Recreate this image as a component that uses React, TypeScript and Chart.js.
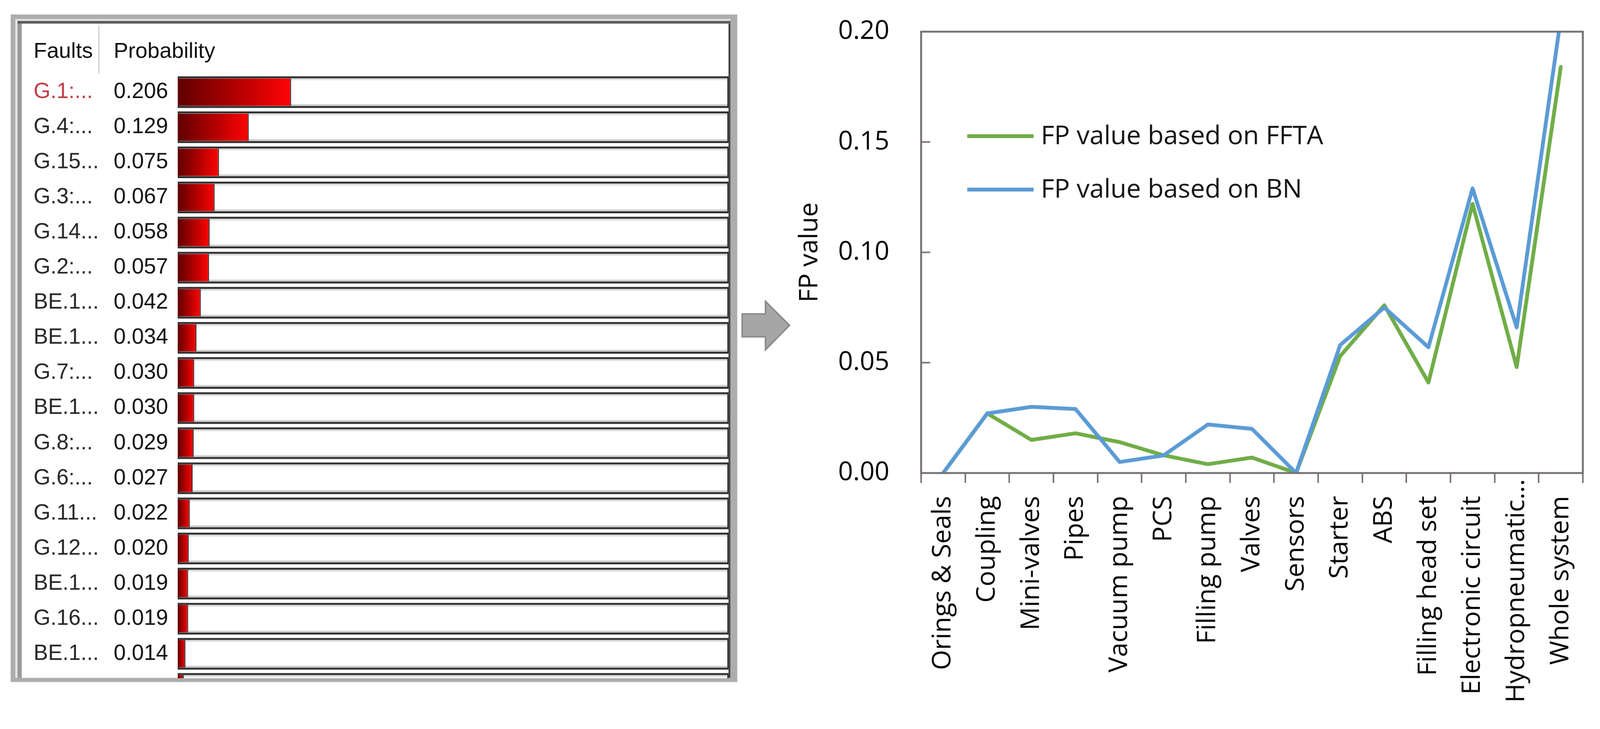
import React, { useEffect, useRef } from 'react';
import { Chart, registerables } from 'chart.js';

Chart.register(...registerables);

// ---------- Left panel data (fault probabilities) ----------
const faultLabels = [
  'G.1:...', 'G.4:...', 'G.15...', 'G.3:...', 'G.14...', 'G.2:...',
  'BE.1...', 'BE.1...', 'G.7:...', 'BE.1...', 'G.8:...', 'G.6:...',
  'G.11...', 'G.12...', 'BE.1...', 'G.16...', 'BE.1...', 'BE.1...',
];
const faultProbs = [
  0.206, 0.129, 0.075, 0.067, 0.058, 0.057,
  0.042, 0.034, 0.030, 0.030, 0.029, 0.027,
  0.022, 0.020, 0.019, 0.019, 0.014, 0.011,
];
const probLabels = faultProbs.map((v) => v.toFixed(3));

// ---------- Right chart data ----------
const components = [
  'Orings & Seals', 'Coupling', 'Mini-valves', 'Pipes', 'Vacuum pump', 'PCS',
  'Filling pump', 'Valves', 'Sensors', 'Starter', 'ABS', 'Filling head set',
  'Electronic circuit', 'Hydropneumatic...', 'Whole system',
];
const fpFFTA = [0, 0.027, 0.015, 0.018, 0.014, 0.008, 0.004, 0.007, 0, 0.053, 0.076, 0.041, 0.122, 0.048, 0.184];
const fpBN = [0, 0.027, 0.030, 0.029, 0.005, 0.008, 0.022, 0.020, 0, 0.058, 0.075, 0.057, 0.129, 0.066, 0.206];
const seriesNames = ['FP value based on FFTA', 'FP value based on BN'];
const yMin = 0;
const yMax = 0.2;
const yStep = 0.05;

const FONT_L = '"Liberation Sans", Arial, sans-serif';
const FONT_R = '"Open Sans", sans-serif';
const AXIS_GRAY = '#767171';
const PAGE_W = 4195;
const PAGE_H = 1866;

const noAxisPadding = (s: any) => {
  s.paddingTop = 0;
  s.paddingBottom = 0;
};

function FaultChart() {
  const ref = useRef<HTMLCanvasElement>(null);
  useEffect(() => {
    if (!ref.current) return;
    const trackPlugin = {
      id: 'track',
      beforeDatasetsDraw(chart: any) {
        const { ctx } = chart;
        const xs = chart.scales.x;
        const ys = chart.scales.yName;
        const band = Math.abs(ys.getPixelForValue(1) - ys.getPixelForValue(0));
        const h = band * 0.9;
        const x0 = xs.getPixelForValue(0);
        const x1 = xs.getPixelForValue(1);
        const w = x1 - x0;
        chart.getDatasetMeta(0).data.forEach((el: any) => {
          const top = el.y - h / 2;
          ctx.save();
          ctx.fillStyle = '#ffffff';
          ctx.fillRect(x0, top, w, h);
          ctx.fillStyle = '#dedede';
          ctx.fillRect(x0, top + 5, w, 5);
          ctx.fillStyle = '#cfcfcf';
          ctx.fillRect(x0, top + h - 10, w, 5);
          ctx.fillStyle = '#2e2e2e';
          ctx.fillRect(x0, top, w, 5);
          ctx.fillRect(x0, top + h - 5, w, 5);
          ctx.fillRect(x0, top, 3, h);
          ctx.fillRect(x1 - 3, top, 3, h);
          ctx.restore();
        });
      },
    };
    const chart = new Chart(ref.current, {
      type: 'bar',
      data: {
        labels: faultLabels,
        datasets: [
          {
            data: faultProbs,
            yAxisID: 'yName',
            xAxisID: 'x',
            backgroundColor: (c: any) => {
              const xs = c.chart.scales.x;
              if (!xs || typeof c.raw !== 'number') return '#c00000';
              const a = xs.getPixelForValue(0);
              const bRaw = xs.getPixelForValue(c.raw);
              if (!Number.isFinite(a) || !Number.isFinite(bRaw)) return '#c00000';
              const b = Math.max(bRaw, a + 1);
              const g = c.chart.ctx.createLinearGradient(a, 0, b, 0);
              g.addColorStop(0, '#600000');
              g.addColorStop(0.5, '#b00000');
              g.addColorStop(1, '#ff0505');
              return g;
            },
            borderColor: '#4a3434',
            borderWidth: { top: 0, bottom: 0, left: 0, right: 3 },
            borderSkipped: false,
            barPercentage: 0.78,
            categoryPercentage: 1,
          } as any,
        ],
      },
      options: {
        indexAxis: 'y',
        animation: false,
        responsive: false,
        maintainAspectRatio: false,
        layout: { padding: { left: 31, top: 5.5, right: 0, bottom: 0 } },
        plugins: { legend: { display: false }, tooltip: { enabled: false } },
        scales: {
          x: { display: false, min: 0, max: 1 },
          yName: {
            type: 'category',
            position: 'left',
            weight: 2,
            labels: faultLabels,
            offset: true,
            grid: { display: false },
            border: { display: false },
            ticks: {
              autoSkip: false,
              crossAlign: 'far',
              padding: 0,
              color: (c: any) => (c.index === 0 ? '#c23b45' : '#262626'),
              font: { family: FONT_L, size: 57 },
            },
            afterFit: (s: any) => { s.width = 210; noAxisPadding(s); },
          },
          yProb: {
            type: 'category',
            position: 'left',
            weight: 1,
            labels: probLabels,
            offset: true,
            grid: { display: false },
            border: { display: false },
            ticks: {
              autoSkip: false,
              crossAlign: 'far',
              padding: 0,
              color: '#111111',
              font: { family: FONT_L, size: 57 },
            },
            afterFit: (s: any) => { s.width = 168; noAxisPadding(s); },
          },
        } as any,
      },
      plugins: [trackPlugin],
    });
    return () => chart.destroy();
  }, []);
  return <canvas ref={ref} width={1853} height={1662} style={{ display: 'block', position: 'absolute', left: 0, top: 128 }} />;
}

function FaultPanel() {
  return (
    <>
      <div style={{ position: 'absolute', left: 28, top: 38, width: 1905, height: 1750, background: '#adadad' }} />
      <div style={{ position: 'absolute', left: 40, top: 50, width: 1875, height: 1727, background: '#e4e4e4' }} />
      <div style={{ position: 'absolute', left: 46, top: 55, width: 1869, height: 1722, background: '#9a9a9a' }} />
      <div style={{ position: 'absolute', left: 46, top: 55, width: 1869, height: 7, background: '#5c5c5c' }} />
      <div
        style={{
          position: 'absolute', left: 57, top: 62, width: 1858, height: 1715, background: '#fff',
          borderRight: '5px solid #454545', boxSizing: 'border-box', overflow: 'hidden',
        }}
      >
        <div style={{ position: 'absolute', left: 31, top: 42, fontFamily: FONT_L, fontSize: 57, lineHeight: '57px', color: '#111', whiteSpace: 'nowrap' }}>Faults</div>
        <div style={{ position: 'absolute', left: 200, top: 6, width: 4, height: 125, background: '#d6d6d6' }} />
        <div style={{ position: 'absolute', left: 241, top: 42, fontFamily: FONT_L, fontSize: 57, lineHeight: '57px', color: '#111', whiteSpace: 'nowrap' }}>Probability</div>
        <FaultChart />
      </div>
    </>
  );
}

function Arrow() {
  return (
    <svg style={{ position: 'absolute', left: 1940, top: 785 }} width={140} height={140}>
      <polygon points="6,38 67,38 67,5 130,68 67,132 67,98 6,98" fill="#a6a6a6" stroke="#8a8a8a" strokeWidth={4} strokeLinejoin="miter" />
    </svg>
  );
}

function FpChart() {
  const ref = useRef<HTMLCanvasElement>(null);
  useEffect(() => {
    if (!ref.current) return;
    const framePlugin = {
      id: 'frame',
      afterDatasetsDraw(chart: any) {
        const { ctx, chartArea } = chart;
        const { left, top, right, bottom } = chartArea;
        ctx.save();
        ctx.strokeStyle = AXIS_GRAY;
        ctx.lineWidth = 4;
        const ys = chart.scales.y;
        ys.ticks.forEach((t: any) => {
          const py = ys.getPixelForValue(t.value);
          ctx.beginPath();
          ctx.moveTo(left, py);
          ctx.lineTo(left + 24, py);
          ctx.stroke();
        });
        ctx.lineWidth = 5;
        ctx.strokeRect(left, top, right - left, bottom - top);
        ctx.restore();
      },
    };
    const xLabelPlugin = {
      id: 'xLabels',
      afterDraw(chart: any) {
        const { ctx, chartArea } = chart;
        const xs = chart.scales.x;
        ctx.save();
        ctx.font = `68px ${FONT_R}`;
        ctx.fillStyle = '#000';
        ctx.textAlign = 'right';
        ctx.textBaseline = 'middle';
        (chart.data.labels as string[]).forEach((lab, i) => {
          const w = ctx.measureText(lab).width;
          const yEnd = Math.min(chartArea.bottom + 60, chart.height - 24 - w);
          const x = xs.getPixelForValue(i);
          ctx.save();
          ctx.translate(x, yEnd);
          ctx.rotate(-Math.PI / 2);
          ctx.fillText(lab, 0, 0);
          ctx.restore();
        });
        ctx.restore();
      },
    };
    const legendPlugin = {
      id: 'insideLegend',
      afterDraw(chart: any) {
        const { ctx, chartArea } = chart;
        const { left, top } = chartArea;
        ctx.save();
        chart.data.datasets.forEach((ds: any, i: number) => {
          const y = top + 274 + i * 140;
          ctx.strokeStyle = ds.borderColor;
          ctx.lineWidth = 10;
          ctx.beginPath();
          ctx.moveTo(left + 121, y);
          ctx.lineTo(left + 295, y);
          ctx.stroke();
          ctx.fillStyle = '#111';
          ctx.font = `68px ${FONT_R}`;
          ctx.textBaseline = 'middle';
          ctx.textAlign = 'left';
          ctx.fillText(ds.label, left + 314, y + 2);
        });
        ctx.restore();
      },
    };
    const chart = new Chart(ref.current, {
      type: 'line',
      data: {
        labels: components,
        datasets: [
          {
            label: seriesNames[0],
            data: fpFFTA,
            borderColor: '#70AD47',
            backgroundColor: '#70AD47',
            borderWidth: 10,
            pointRadius: 0,
            tension: 0,
            order: 2,
            borderJoinStyle: 'round',
            borderCapStyle: 'round',
          },
          {
            label: seriesNames[1],
            data: fpBN,
            borderColor: '#5B9BD5',
            backgroundColor: '#5B9BD5',
            borderWidth: 10,
            pointRadius: 0,
            tension: 0,
            order: 1,
            borderJoinStyle: 'round',
            borderCapStyle: 'round',
          },
        ],
      },
      options: {
        animation: false,
        responsive: false,
        maintainAspectRatio: false,
        layout: { padding: { left: 0, top: 83, right: 45, bottom: 0 } },
        plugins: { legend: { display: false }, tooltip: { enabled: false } },
        scales: {
          x: {
            offset: true,
            grid: { offset: true, drawOnChartArea: false, drawTicks: true, tickLength: 26, color: AXIS_GRAY, lineWidth: 4 },
            border: { display: false },
            ticks: { display: false, autoSkip: false },
            afterFit: (s: any) => { s.height = 626; s.paddingLeft = 0; s.paddingRight = 0; },
          },
          y: {
            min: yMin,
            max: yMax,
            grid: { display: false },
            border: { display: false },
            ticks: {
              stepSize: yStep,
              padding: 75,
              color: '#000',
              font: { family: FONT_R, size: 68 },
              callback: (v: any) => Number(v).toFixed(2),
            },
            title: {
              display: true,
              text: 'FP value',
              color: '#000',
              font: { family: FONT_R, size: 68 },
              padding: { top: 43, bottom: 0 },
            },
            afterFit: (s: any) => { s.width = 375; noAxisPadding(s); },
          },
        } as any,
      },
      plugins: [framePlugin, xLabelPlugin, legendPlugin],
    });
    return () => chart.destroy();
  }, []);
  return <canvas ref={ref} width={2155} height={1866} style={{ display: 'block' }} />;
}

export default function App() {
  const vw = typeof window !== 'undefined' ? window.innerWidth : PAGE_W;
  const vh = typeof window !== 'undefined' ? window.innerHeight : PAGE_H;
  const scale = Math.min(vw / PAGE_W, vh / PAGE_H);
  return (
    <div
      style={{
        position: 'absolute', left: 0, top: 0, width: PAGE_W, height: PAGE_H, background: '#fff', overflow: 'hidden',
        transform: `scale(${scale})`, transformOrigin: '0 0',
      }}
    >
      <FaultPanel />
      <Arrow />
      <div style={{ position: 'absolute', left: 2040, top: 0 }}>
        <FpChart />
      </div>
    </div>
  );
}
